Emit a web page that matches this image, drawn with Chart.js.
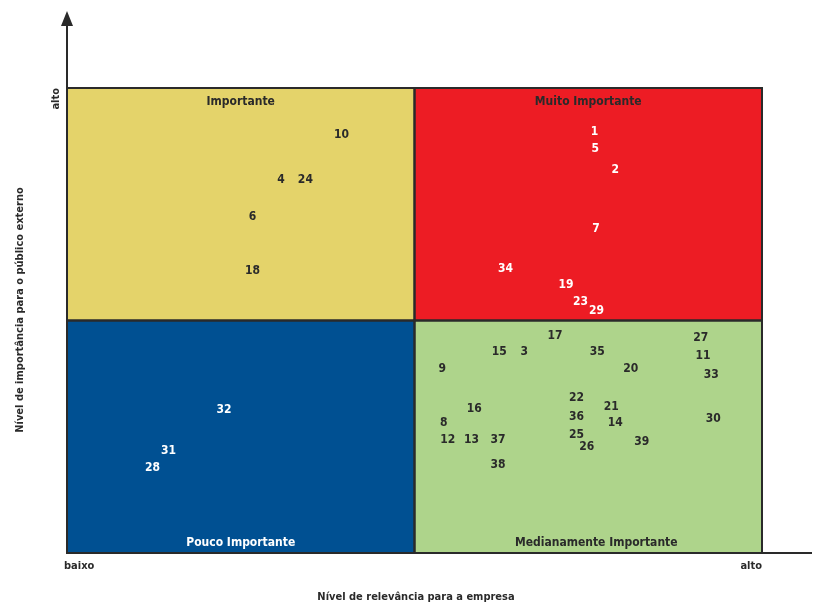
<!DOCTYPE html>
<html>
<head>
<meta charset="utf-8">
<script src="https://cdn.jsdelivr.net/npm/chart.js@4/dist/chart.umd.min.js"></script>
<style>
  html, body { margin: 0; padding: 0; background: #fff; }
  #wrap { width: 816px; height: 604px; position: relative; }
</style>
</head>
<body>
<div id="wrap"><canvas id="matrix"></canvas></div>
<script>
// Materiality matrix data (x: relevância para a empresa, y: importância para o público externo)
const topicIds = ['10', '4', '24', '6', '18',
    '1', '5', '2', '7', '34', '19', '23', '29',
    '32', '31', '28',
    '17', '15', '3', '35', '27', '11', '33', '9', '20', '22', '21', '16', '36', '14', '30',
    '8', '12', '13', '37', '25', '26', '39', '38'];
const relevanceX = [3.95, 3.08, 3.43, 2.67, 2.67,
    7.59, 7.60, 7.89, 7.61, 6.31, 7.18, 7.39, 7.62,
    2.26, 1.46, 1.23,
    7.02, 6.22, 6.58, 7.63, 9.12, 9.15, 9.27, 5.40, 8.11, 7.33, 7.83, 5.86, 7.33, 7.89, 9.30,
    5.42, 5.48, 5.82, 6.20, 7.33, 7.48, 8.27, 6.20];
const importanceY = [8.99, 8.02, 8.02, 7.22, 6.06,
    9.05, 8.70, 8.25, 6.98, 6.10, 5.76, 5.40, 5.21,
    3.08, 2.19, 1.82,
    4.67, 4.32, 4.32, 4.32, 4.62, 4.23, 3.82, 3.96, 3.96, 3.33, 3.15, 3.10, 2.92, 2.80, 2.88,
    2.79, 2.43, 2.43, 2.43, 2.53, 2.29, 2.40, 1.89];

const quadrantNames = ['Importante', 'Muito Importante', 'Pouco Importante', 'Medianamente Importante'];
const quadrantColors = ['#e4d36a', '#ed1c24', '#005092', '#aed48b'];
const axisLabels = ['baixo', 'alto'];
const xTitle = 'Nível de relevância para a empresa';
const yTitle = 'Nível de importância para o público externo';

const FONT = '"DejaVu Sans Condensed", "DejaVu Sans", sans-serif';
const INK = '#2a2a2a';

const points = topicIds.map((id, i) => ({ x: relevanceX[i], y: importanceY[i], id }));

// quadrants behind the points
const quadrantPlugin = {
    id: 'quadrants',
    beforeDatasetsDraw(chart) {
        const { ctx, scales: { x, y } } = chart;
        const x0 = x.getPixelForValue(0), x5 = x.getPixelForValue(5), x10 = x.getPixelForValue(10);
        const y0 = y.getPixelForValue(0), y5 = y.getPixelForValue(5), y10 = y.getPixelForValue(10);
        const rects = [
            [x0, y10, x5, y5], [x5, y10, x10, y5],
            [x0, y5, x5, y0], [x5, y5, x10, y0]
        ];
        ctx.save();
        rects.forEach((r, i) => {
            ctx.fillStyle = quadrantColors[i];
            ctx.fillRect(r[0], r[1], r[2] - r[0], r[3] - r[1]);
        });
        ctx.strokeStyle = INK;
        ctx.lineWidth = 2;
        rects.forEach(r => ctx.strokeRect(r[0], r[1], r[2] - r[0], r[3] - r[1]));

        // quadrant titles
        ctx.font = 'bold 12px ' + FONT;
        ctx.textAlign = 'center';
        ctx.textBaseline = 'middle';
        ctx.fillStyle = INK;
        ctx.fillText(quadrantNames[0], (x0 + x5) / 2, y10 + 14);
        ctx.fillText(quadrantNames[1], (x5 + x10) / 2, y10 + 14);
        ctx.fillStyle = '#fff';
        ctx.fillText(quadrantNames[2], (x0 + x5) / 2, y0 - 10);
        ctx.fillStyle = INK;
        ctx.fillText(quadrantNames[3], (x5 + x10) / 2 + 8, y0 - 10);

        // axes with arrow
        ctx.strokeStyle = INK;
        ctx.lineWidth = 2;
        ctx.beginPath();
        ctx.moveTo(x0, y0);
        ctx.lineTo(x0, 24);
        ctx.moveTo(x0, y0);
        ctx.lineTo(812, y0);
        ctx.stroke();
        ctx.fillStyle = INK;
        ctx.beginPath();
        ctx.moveTo(x0, 11);
        ctx.lineTo(x0 - 6, 26);
        ctx.lineTo(x0 + 6, 26);
        ctx.closePath();
        ctx.fill();

        // axis end labels and titles
        ctx.font = 'bold 11px ' + FONT;
        ctx.fillStyle = INK;
        ctx.textAlign = 'left';
        ctx.fillText(axisLabels[0], x0 - 3, y0 + 13);
        ctx.textAlign = 'right';
        ctx.fillText(axisLabels[1], x10, y0 + 13);
        ctx.textAlign = 'center';
        ctx.fillText(xTitle, 416, 597);

        ctx.save();
        ctx.translate(56, y10);
        ctx.rotate(-Math.PI / 2);
        ctx.textAlign = 'right';
        ctx.fillText(axisLabels[1], 0, 0);
        ctx.restore();

        ctx.save();
        ctx.translate(20, 310);
        ctx.rotate(-Math.PI / 2);
        ctx.textAlign = 'center';
        ctx.fillText(yTitle, 0, 0);
        ctx.restore();
        ctx.restore();
    }
};

// numbers at each point
const labelPlugin = {
    id: 'pointLabels',
    afterDatasetsDraw(chart) {
        const { ctx } = chart;
        const meta = chart.getDatasetMeta(0);
        ctx.save();
        ctx.font = 'bold 12px ' + FONT;
        ctx.textAlign = 'center';
        ctx.textBaseline = 'middle';
        meta.data.forEach((el, i) => {
            const p = points[i];
            const white = (p.x > 5 && p.y > 5) || (p.x < 5 && p.y < 5);
            ctx.fillStyle = white ? '#ffffff' : INK;
            ctx.fillText(p.id, el.x, el.y);
        });
        ctx.restore();
    }
};

new Chart(document.getElementById('matrix'), {
    type: 'scatter',
    data: {
        datasets: [{
            data: points,
            pointRadius: 0,
            pointHoverRadius: 0,
            backgroundColor: 'transparent'
        }]
    },
    options: {
        responsive: true,
        maintainAspectRatio: false,
        animation: false,
        layout: { padding: { left: 67, right: 54, top: 88, bottom: 51 } },
        plugins: {
            legend: { display: false },
            tooltip: { enabled: false }
        },
        scales: {
            x: { type: 'linear', min: 0, max: 10, display: false },
            y: { type: 'linear', min: 0, max: 10, display: false }
        }
    },
    plugins: [quadrantPlugin, labelPlugin]
});
</script>
</body>
</html>
